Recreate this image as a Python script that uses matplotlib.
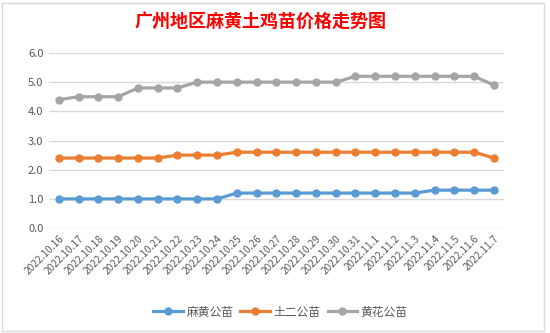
import matplotlib
matplotlib.use('Agg')
import matplotlib.pyplot as plt
import numpy as np

plt.rcParams['font.family'] = ['Noto Sans CJK SC', 'DejaVu Sans']

# Data
dates = ['2022.10.16', '2022.10.17', '2022.10.18', '2022.10.19', '2022.10.20',
         '2022.10.21', '2022.10.22', '2022.10.23', '2022.10.24', '2022.10.25',
         '2022.10.26', '2022.10.27', '2022.10.28', '2022.10.29', '2022.10.30',
         '2022.10.31', '2022.11.1', '2022.11.2', '2022.11.3', '2022.11.4',
         '2022.11.5', '2022.11.6', '2022.11.7']
mahuang = [1.0, 1.0, 1.0, 1.0, 1.0, 1.0, 1.0, 1.0, 1.0, 1.2, 1.2, 1.2, 1.2,
           1.2, 1.2, 1.2, 1.2, 1.2, 1.2, 1.3, 1.3, 1.3, 1.3]
tuer = [2.4, 2.4, 2.4, 2.4, 2.4, 2.4, 2.5, 2.5, 2.5, 2.6, 2.6, 2.6, 2.6,
        2.6, 2.6, 2.6, 2.6, 2.6, 2.6, 2.6, 2.6, 2.6, 2.4]
huanghua = [4.4, 4.5, 4.5, 4.5, 4.8, 4.8, 4.8, 5.0, 5.0, 5.0, 5.0, 5.0, 5.0,
            5.0, 5.0, 5.2, 5.2, 5.2, 5.2, 5.2, 5.2, 5.2, 4.9]

series = [('麻黄公苗', mahuang, '#5B9BD5'),
          ('土二公苗', tuer, '#ED7D31'),
          ('黄花公苗', huanghua, '#A5A5A5')]

fig = plt.figure(figsize=(5.5, 3.33), dpi=100)
ax = fig.add_axes([0.089, 0.315, 0.827, 0.526])

x = np.arange(len(dates))
for name, vals, col in series:
    ax.plot(x, vals, color=col, linewidth=2.3, marker='o', markersize=5,
            label=name)

ax.set_xlim(-0.5, len(dates) - 0.5)
ax.set_ylim(0, 6)
ax.set_yticks(np.arange(0, 6.1, 1.0))
ax.set_yticklabels([f'{v:.1f}' for v in np.arange(0, 6.1, 1.0)],
                   fontsize=8, color='#595959')
ax.set_xticks(x)
ax.set_xticklabels(dates, rotation=45, ha='right', rotation_mode='anchor',
                   fontsize=7.3, color='#595959')
ax.grid(axis='y', color='#D9D9D9', linewidth=1)
ax.set_axisbelow(True)
for s in ax.spines.values():
    s.set_visible(False)
ax.tick_params(length=0, pad=4)

fig.text(0.473, 0.935, '广州地区麻黄土鸡苗价格走势图', color='red',
         fontsize=13, fontweight='bold', ha='center', va='center')

ax.legend(loc='center', bbox_to_anchor=(0.51, 0.063),
          bbox_transform=fig.transFigure, ncol=3, frameon=False,
          fontsize=8.5, labelcolor='#595959', handlelength=2.5,
          columnspacing=0.6, handletextpad=0.3)

# chart border
fig.patches.append(plt.Rectangle((0.004, 0.006), 0.985, 0.985,
                                 transform=fig.transFigure, fill=False,
                                 edgecolor='#D9D9D9', linewidth=1))

fig.savefig('out.png', dpi=100)
